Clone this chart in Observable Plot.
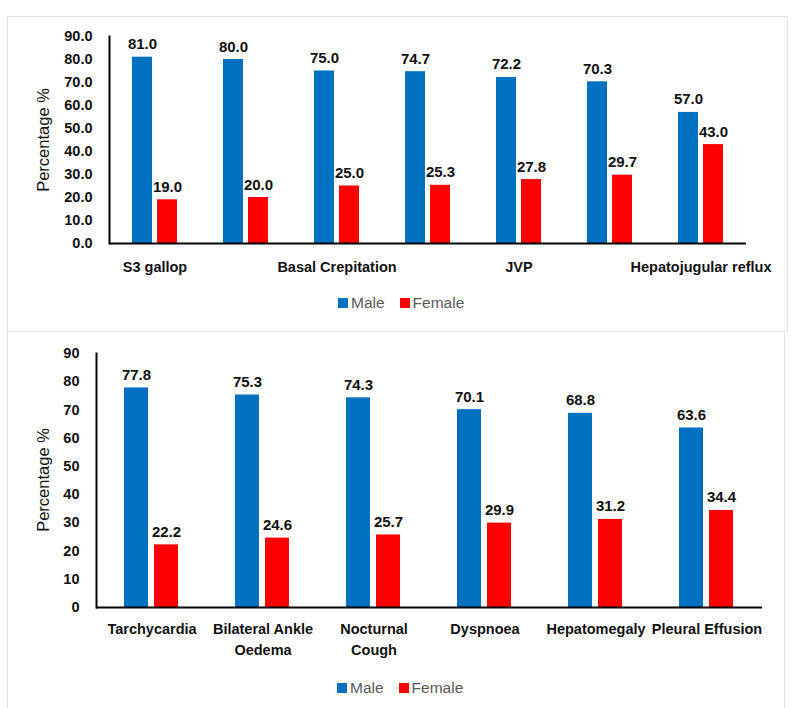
<!DOCTYPE html>
<html>
<head>
<meta charset="utf-8">
<script src="https://cdn.jsdelivr.net/npm/d3@7"></script>
<script src="https://cdn.jsdelivr.net/npm/@observablehq/plot@0.6"></script>
<style>
  body { margin: 0; background: #fff; }
  #page { position: relative; width: 795px; height: 708px; overflow: hidden; font-family: "Liberation Sans", Arial, sans-serif; }
  .box { position: absolute; border: 1.5px solid #e2e2e2; box-sizing: border-box; }
  .chart { position: absolute; left: 0; }
  .ytitle { position: absolute; font-size: 16.5px; color: #111; white-space: nowrap; transform: translate(-50%, -50%) rotate(-90deg); }
  .legend { position: absolute; display: flex; align-items: center; font-size: 15.5px; color: #595959; white-space: nowrap; }
  .legend .sw { width: 10px; height: 10px; display: inline-block; margin-right: 3px; }
  .legend .item { display: flex; align-items: center; margin-right: 15px; }
</style>
</head>
<body>
<div id="page">
  <div class="box" style="left:7px; top:16px; width:781px; height:316px;"></div>
  <div class="box" style="left:7px; top:331px; width:778px; height:420px;"></div>
  <div id="top" class="chart" style="top:0px;"></div>
  <div id="bottom" class="chart" style="top:330px;"></div>
  <div class="ytitle" style="left:43px; top:140px;">Percentage %</div>
  <div class="ytitle" style="left:43px; top:480px;">Percentage %</div>
  <div id="legTop" class="legend" style="left:338px; top:294px;"></div>
  <div id="legBottom" class="legend" style="left:337px; top:679px;"></div>
</div>
<script>
// ---- Data ----
const series = ["Male", "Female"];
const seriesColors = ["#0070C0", "#FF0000"];

// Top panel (only alternate category labels are visible in the original)
const topCategories = ["S3 gallop", "(unlabelled 2)", "Basal Crepitation", "(unlabelled 4)", "JVP", "(unlabelled 6)", "Hepatojugular reflux"];
const topTickLabels = ["S3 gallop", "", "Basal Crepitation", "", "JVP", "", "Hepatojugular reflux"];
const topMale   = [81.0, 80.0, 75.0, 74.7, 72.2, 70.3, 57.0];
const topFemale = [19.0, 20.0, 25.0, 25.3, 27.8, 29.7, 43.0];
const topYTicks = [0, 10, 20, 30, 40, 50, 60, 70, 80, 90];

// Bottom panel
const bottomCategories = ["Tarchycardia", "Bilateral Ankle\nOedema", "Nocturnal\nCough", "Dyspnoea", "Hepatomegaly", "Pleural Effusion"];
const bottomMale   = [77.8, 75.3, 74.3, 70.1, 68.8, 63.6];
const bottomFemale = [22.2, 24.6, 25.7, 29.9, 31.2, 34.4];
const bottomYTicks = [0, 10, 20, 30, 40, 50, 60, 70, 80, 90];

function rows(cats, male, female) {
  return cats.flatMap((c, i) => [
    {cat: c, sex: series[0], value: male[i]},
    {cat: c, sex: series[1], value: female[i]}
  ]);
}

function chart({cats, data, tickLabel, yTicks, yFmt, width, height, mL, mR, mT, mB, pI, pO, fxPad}) {
  return Plot.plot({
    width, height,
    marginLeft: mL, marginRight: mR, marginTop: mT, marginBottom: mB,
    style: {fontFamily: "'Liberation Sans', Arial, sans-serif", background: "transparent", overflow: "visible"},
    fx: {domain: cats, padding: 0, label: null, axis: null},
    x: {domain: series, axis: null, paddingInner: pI, paddingOuter: pO},
    y: {domain: [0, 90], axis: null},
    color: {domain: series, range: seriesColors},
    marks: [
      Plot.axisFx({anchor: "bottom", tickSize: 0, tickPadding: fxPad, fontSize: 14.5, fontWeight: "bold", fill: "#111", lineHeight: 1.45, tickFormat: tickLabel, label: null}),
      Plot.axisY({ticks: yTicks, tickSize: 0, tickPadding: 17, fontSize: 14.5, fontWeight: "bold", fill: "#111", tickFormat: yFmt, label: null}),
      Plot.barY(data, {fx: "cat", x: "sex", y: "value", fill: "sex"}),
      Plot.text(data, {fx: "cat", x: "sex", y: "value", text: d => d.value.toFixed(1), dy: -8, lineAnchor: "bottom", fontSize: 15, fontWeight: "bold", fill: "#111"}),
      Plot.ruleY([0], {stroke: "#000", strokeWidth: 2}),
      Plot.frame({anchor: "left", facetAnchor: "left", stroke: "#000", strokeWidth: 2})
    ]
  });
}

document.getElementById("top").append(chart({
  cats: topCategories,
  data: rows(topCategories, topMale, topFemale),
  tickLabel: d => topTickLabels[topCategories.indexOf(d)],
  yTicks: topYTicks, yFmt: d => d.toFixed(1),
  width: 795, height: 280, mL: 107, mR: 48, mT: 36, mB: 37,
  pI: 0.19, pO: 0.85, fxPad: 14
}));

document.getElementById("bottom").append(chart({
  cats: bottomCategories,
  data: rows(bottomCategories, bottomMale, bottomFemale),
  tickLabel: d => d,
  yTicks: bottomYTicks, yFmt: d => String(d),
  width: 795, height: 340, mL: 94, mR: 32, mT: 23, mB: 63,
  pI: 0.19, pO: 0.89, fxPad: 12
}));

for (const id of ["legTop", "legBottom"]) {
  const el = document.getElementById(id);
  series.forEach((s, i) => {
    const item = document.createElement("span");
    item.className = "item";
    const sw = document.createElement("span");
    sw.className = "sw";
    sw.style.background = seriesColors[i];
    item.append(sw, document.createTextNode(s));
    el.append(item);
  });
}
</script>
</body>
</html>
